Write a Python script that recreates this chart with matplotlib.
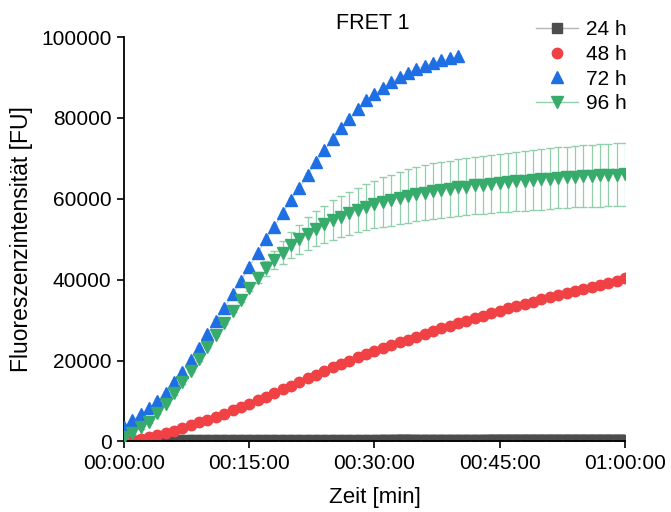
import numpy as np
import matplotlib.pyplot as plt
from matplotlib.lines import Line2D

plt.rcParams['font.family'] = ['Liberation Sans', 'DejaVu Sans']

# time in minutes
t_all = list(range(61))
t_72 = list(range(41))

gray_24 = [500, 600, 650, 700, 750, 780, 800, 800, 800, 800,
           800, 800, 800, 800, 800, 800, 800, 800, 800, 800,
           800, 800, 800, 800, 800, 800, 800, 800, 800, 800,
           800, 850, 850, 900, 900, 850, 850, 850, 850, 850,
           850, 850, 850, 850, 900, 900, 900, 900, 900, 900,
           900, 900, 900, 900, 900, 900, 900, 900, 900, 900, 900]

red_48 = [0, 300, 600, 1000, 1500, 2100, 2700, 3300, 4000, 4700,
          5400, 6100, 6900, 7700, 8500, 9300, 10200, 11100, 12000, 12900,
          13800, 14700, 15600, 16500, 17400, 18300, 19200, 20000, 20800, 21600,
          22400, 23100, 23800, 24500, 25200, 25900, 26600, 27300, 28000, 28600,
          29300, 29900, 30500, 31100, 31700, 32300, 32900, 33500, 34000, 34600,
          35200, 35700, 36300, 36800, 37300, 37800, 38300, 38800, 39300, 39800, 40300]

blue_72 = [3700, 5200, 6750, 8200, 10000, 11900, 14600, 17300, 20200, 23200,
           26500, 29900, 32900, 36400, 39700, 43200, 46500, 50000, 53100, 56500,
           59800, 62700, 66000, 69000, 72000, 74900, 77400, 79800, 82100, 84400,
           85800, 87500, 88900, 90000, 91100, 92200, 92900, 93600, 94200, 94700, 95200]
blue_err = [400] * 41

green_96 = [1200, 2200, 3500, 4900, 7000, 9300, 11900, 14600, 17400, 20300,
            23300, 26400, 29400, 32300, 35100, 38000, 40500, 42800, 44900, 46700,
            48500, 50000, 51400, 52600, 53700, 54700, 55600, 56400, 57200, 57900,
            58600, 59200, 59700, 60200, 60700, 61100, 61500, 61900, 62200, 62500,
            62800, 63000, 63300, 63500, 63700, 63900, 64100, 64300, 64500, 64700,
            64800, 65000, 65200, 65300, 65500, 65600, 65700, 65800, 65900, 66000, 66100]
green_err = [300, 300, 300, 300, 300, 300, 300, 300, 300, 300,
             300, 300, 300, 300, 500, 800, 1300, 1800, 2300, 2800,
             3200, 3600, 4000, 4300, 4600, 4900, 5100, 5300, 5500, 5700,
             5900, 6100, 6300, 6500, 6600, 6700, 6800, 6850, 6900, 6950,
             7000, 7050, 7100, 7150, 7200, 7250, 7300, 7350, 7400, 7450,
             7500, 7530, 7560, 7590, 7620, 7650, 7680, 7710, 7740, 7770, 7800]

c_gray = '#4d4d4d'
c_red = '#f04145'
c_blue = '#1e6fe3'
c_green = '#37ab6b'

fig = plt.figure(figsize=(6.71, 5.12), dpi=100)
ax = fig.add_axes([0.1848, 0.1377, 0.7466, 0.79])

ax.plot(t_all, gray_24, 's-', color=c_gray, ms=5, lw=5, zorder=1)
ax.plot(t_all, red_48, 'o', color=c_red, ms=7.5, zorder=2)
ax.plot(t_72, blue_72, '-', color='#9cc0f0', lw=0.6, zorder=2.5)
ax.errorbar(t_72, blue_72, yerr=blue_err, fmt='^', color=c_blue, ms=8.5,
            ecolor='#9cc0f0', elinewidth=0.8, capsize=2.5, zorder=3)
ax.errorbar(t_all, green_96, yerr=green_err, fmt='v', color=c_green, ms=8.5,
            ecolor='#8fd0aa', elinewidth=0.9, capsize=3, zorder=4)

ax.set_xlim(0, 60)
ax.set_ylim(0, 100000)
ax.set_xticks([0, 15, 30, 45, 60])
ax.set_xticklabels(['00:00:00', '00:15:00', '00:30:00', '00:45:00', '01:00:00'])
ax.set_yticks([0, 20000, 40000, 60000, 80000, 100000])
ax.set_yticklabels(['0', '20000', '40000', '60000', '80000', '100000'])
ax.tick_params(labelsize=15, length=5, width=1.2, direction='out', pad=4)
for s in ['top', 'right']:
    ax.spines[s].set_visible(False)
for s in ['left', 'bottom']:
    ax.spines[s].set_linewidth(1.3)

ax.set_xlabel('Zeit [min]', fontsize=16, labelpad=10)
ax.set_ylabel('Fluoreszenzintensität [FU]', fontsize=16.5, labelpad=6)
fig.text(0.556, 0.955, 'FRET 1', ha='center', va='center', fontsize=15.5)

handles = [
    Line2D([], [], color='#b5b5b5', lw=1, marker='s', mfc=c_gray, mec=c_gray, ms=6.5),
    Line2D([], [], ls='none', marker='o', color=c_red, ms=7.5),
    Line2D([], [], ls='none', marker='^', color=c_blue, ms=8),
    Line2D([], [], color='#8fd0aa', lw=1, marker='v', mfc=c_green, mec=c_green, ms=8),
]
fig.legend(handles, ['24 h', '48 h', '72 h', '96 h'], loc='upper right',
           bbox_to_anchor=(0.962, 0.997), frameon=False, fontsize=15,
           handlelength=2.0, handletextpad=0.4, labelspacing=0.27)

fig.savefig('out.png', dpi=100)
